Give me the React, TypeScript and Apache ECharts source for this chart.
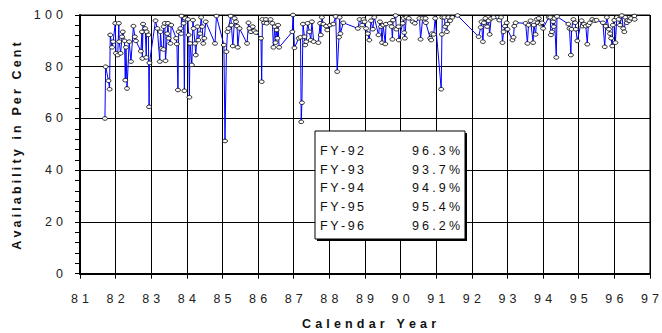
import React, { useEffect, useRef } from "react";
import * as echarts from "echarts";

// Calendar year (decimal) of each availability reading
const years: number[] = [
  81.70, 81.72, 81.80, 81.83, 81.85, 81.90, 81.93, 81.99, 82.01, 82.06,
  82.09, 82.10, 82.14, 82.18, 82.20, 82.25, 82.27, 82.29, 82.32, 82.38,
  82.43, 82.50, 82.54, 82.57, 82.71, 82.74, 82.75, 82.77, 82.83, 82.86,
  82.87, 82.92, 82.94, 82.95, 83.12, 83.17, 83.24, 83.26, 83.29, 83.34,
  83.35, 83.38, 83.40, 83.45, 83.47, 83.49, 83.54, 83.56, 83.70, 83.72,
  83.75, 83.77, 83.82, 83.84, 83.85, 83.91, 83.93, 83.95, 84.03, 84.05,
  84.07, 84.09, 84.14, 84.17, 84.19, 84.23, 84.25, 84.30, 84.32, 84.37,
  84.40, 84.43, 84.46, 84.49, 84.53, 84.79, 84.83, 85.04, 85.07, 85.11,
  85.14, 85.17, 85.23, 85.25, 85.29, 85.34, 85.38, 85.41, 85.43, 85.48,
  85.69, 85.73, 85.76, 85.80, 85.85, 85.89, 85.94, 86.08, 86.10, 86.12,
  86.17, 86.22, 86.24, 86.35, 86.40, 86.43, 86.47, 86.49, 86.52, 86.54,
  86.56, 86.59, 86.96, 86.98, 87.02, 87.14, 87.19, 87.21, 87.23, 87.26,
  87.30, 87.32, 87.35, 87.39, 87.44, 87.48, 87.51, 87.56, 87.69, 87.74,
  87.76, 87.79, 87.83, 87.91, 87.94, 88.02, 88.11, 88.18, 88.22, 88.27,
  88.29, 88.31, 88.39, 88.80, 88.85, 88.92, 88.96, 88.99, 89.03, 89.08,
  89.12, 89.17, 89.22, 89.26, 89.38, 89.42, 89.45, 89.48, 89.51, 89.57,
  89.59, 89.70, 89.75, 89.77, 89.79, 89.86, 89.88, 89.94, 89.95, 90.06,
  90.09, 90.10, 90.12, 90.16, 90.23, 90.34, 90.40, 90.53, 90.56, 90.62,
  90.70, 90.71, 90.83, 90.86, 90.88, 90.93, 90.97, 91.14, 91.16, 91.17,
  91.23, 91.25, 91.30, 91.31, 91.34, 91.39, 91.45, 91.60, 92.19, 92.25,
  92.27, 92.31, 92.34, 92.38, 92.43, 92.47, 92.50, 92.54, 92.61, 92.77,
  92.82, 92.86, 92.89, 92.93, 92.98, 93.00, 93.14, 93.17, 93.19, 93.23,
  93.51, 93.56, 93.59, 93.65, 93.72, 93.74, 93.79, 93.82, 93.85, 93.88,
  93.93, 93.97, 94.00, 94.16, 94.20, 94.22, 94.25, 94.28, 94.30, 94.32,
  94.37, 94.39, 94.71, 94.74, 94.78, 94.80, 94.85, 94.90, 94.92, 94.96,
  95.08, 95.11, 95.15, 95.20, 95.24, 95.27, 95.31, 95.38, 95.45, 95.50,
  95.68, 95.73, 95.76, 95.79, 95.85, 95.88, 95.91, 95.94, 95.96, 96.00,
  96.03, 96.07, 96.12, 96.16, 96.21, 96.25, 96.28, 96.31, 96.35, 96.37,
  96.42, 96.47, 96.56, 96.57,
];

// Availability in per cent
const availability: number[] = [
  60.0, 80.0, 74.6, 71.3, 92.3, 87.5, 89.7, 96.8, 85.2, 84.5,
  96.8, 89.7, 85.2, 91.6, 93.5, 90.0, 74.8, 87.5, 71.6, 89.7,
  82.0, 95.7, 91.6, 90.0, 86.0, 93.5, 83.2, 96.5, 94.8, 83.6,
  93.5, 92.3, 64.5, 81.5, 97.8, 94.8, 82.0, 93.5, 87.1, 86.7,
  95.5, 96.8, 82.3, 92.8, 96.8, 91.0, 89.0, 96.1, 91.0, 88.8,
  71.0, 93.5, 94.8, 92.8, 99.6, 96.8, 70.7, 98.7, 98.3, 92.3,
  68.2, 89.0, 80.7, 98.0, 94.8, 89.0, 84.5, 95.5, 90.3, 92.8,
  99.1, 95.5, 89.0, 91.0, 97.4, 89.0, 99.6, 88.4, 51.3, 85.8,
  93.5, 94.8, 99.6, 96.1, 88.0, 98.7, 97.4, 95.7, 87.5, 94.8,
  89.0, 97.0, 94.8, 93.5, 95.5, 93.9, 93.2, 91.0, 74.2, 98.3,
  97.0, 98.3, 96.8, 98.3, 96.8, 87.5, 95.5, 89.3, 94.2, 91.0,
  96.1, 87.5, 93.5, 100.0, 87.3, 91.0, 91.4, 58.7, 66.1, 96.5,
  91.6, 88.4, 89.7, 96.8, 93.5, 90.3, 97.4, 89.7, 89.3, 96.8,
  92.3, 99.1, 96.5, 95.7, 94.2, 96.1, 96.5, 99.4, 78.1, 91.4,
  99.1, 92.8, 97.0, 94.8, 98.3, 96.1, 98.3, 97.4, 94.8, 92.8,
  90.3, 97.8, 94.5, 99.1, 92.3, 97.4, 95.5, 89.3, 96.1, 88.8,
  96.5, 96.8, 95.5, 90.6, 98.0, 99.8, 94.5, 95.5, 90.3, 96.8,
  98.7, 93.2, 91.0, 99.1, 98.7, 97.4, 96.8, 98.7, 90.6, 98.7,
  98.7, 97.0, 91.0, 90.3, 92.8, 92.5, 98.7, 71.3, 92.5, 99.1,
  99.1, 95.5, 93.5, 96.5, 99.1, 97.8, 99.1, 99.8, 91.6, 95.2,
  97.4, 89.7, 97.0, 98.7, 95.5, 97.8, 92.5, 98.7, 99.1, 98.0,
  99.1, 89.3, 93.5, 95.7, 97.0, 94.5, 90.3, 91.4, 95.7, 97.0,
  96.8, 89.0, 96.1, 97.8, 89.3, 96.1, 92.5, 98.3, 97.0, 98.7,
  96.5, 97.0, 94.8, 99.1, 99.1, 92.3, 93.5, 97.4, 95.5, 98.7,
  83.6, 99.4, 96.5, 94.8, 84.5, 94.5, 98.3, 97.0, 94.5, 90.0,
  97.8, 95.7, 96.5, 95.7, 88.7, 96.1, 97.0, 98.3, 97.8, 98.0,
  97.0, 87.7, 95.7, 99.1, 94.5, 92.8, 91.0, 88.0, 96.1, 98.0,
  89.3, 99.1, 98.3, 96.1, 99.8, 94.8, 93.5, 99.1, 97.0, 98.0,
  97.8, 98.7, 99.6, 98.3,
];

const fiscalYears: string[] = ["FY-92", "FY-93", "FY-94", "FY-95", "FY-96"];
const fiscalAvail: string[] = ["96.3%", "93.7%", "94.9%", "95.4%", "96.2%"];

const xTitle = "Calendar Year";
const yTitle = "Availability in Per Cent";

const FONT = "'Liberation Sans', Arial, Helvetica, sans-serif";
const spaced = (s: string, ch: string) => s.split("").join(ch);

export default function App() {
  const ref = useRef<HTMLDivElement>(null);

  useEffect(() => {
    if (!ref.current) return;
    const chart = echarts.init(ref.current, undefined, { renderer: "svg" });

    const data = years.map((x, i) => [x, availability[i]]);

    const boxX = 315, boxY = 131, boxW = 150, boxH = 108;
    const rowY0 = 151, rowStep = 18.7;
    const legendEls: any[] = [
      { type: "rect", shape: { x: boxX + 2, y: boxY + 2, width: boxW, height: boxH }, style: { fill: "#000" }, z: 100 },
      { type: "rect", shape: { x: boxX, y: boxY, width: boxW, height: boxH }, style: { fill: "#fff", stroke: "#000", lineWidth: 1 }, z: 101 },
    ];
    fiscalYears.forEach((fy, i) => {
      legendEls.push({
        type: "text", z: 102, x: 320, y: rowY0 + i * rowStep,
        style: { text: spaced(fy, "\u2009"), font: `12.5px ${FONT}`, fill: "#111", align: "left", textAlign: "left", verticalAlign: "middle", textVerticalAlign: "middle" },
      });
      legendEls.push({
        type: "text", z: 102, x: 460, y: rowY0 + i * rowStep,
        style: { text: spaced(fiscalAvail[i], "\u2005"), font: `12.5px ${FONT}`, fill: "#111", align: "right", textAlign: "right", verticalAlign: "middle", textVerticalAlign: "middle" },
      });
    });

    chart.setOption({
      animation: false,
      grid: { left: 80, right: 4, top: 15, bottom: 59.3, show: true, borderColor: "#000", borderWidth: 1, backgroundColor: "transparent" },
      xAxis: {
        type: "value", min: 81, max: 97, interval: 1,
        axisLine: { show: true, onZero: false, lineStyle: { color: "#000", width: 2 } },
        axisTick: { show: true, length: 5, lineStyle: { color: "#000", width: 1 } },
        axisLabel: { margin: 19, color: "#222", fontFamily: FONT, fontSize: 12.5, formatter: (v: number) => spaced(String(v), "\u2004") },
        splitLine: { show: true, lineStyle: { color: "#000", width: 1 } },
      },
      yAxis: {
        type: "value", min: 0, max: 100, interval: 20,
        axisLine: { show: true, lineStyle: { color: "#000", width: 2 } },
        axisTick: { show: true, length: 5, lineStyle: { color: "#000", width: 1 } },
        minorTick: { show: true, splitNumber: 5, length: 5, lineStyle: { color: "#000", width: 1 } },
        axisLabel: { margin: 17, color: "#222", fontFamily: FONT, fontSize: 12.5, formatter: (v: number) => spaced(String(v), "\u2004") },
        splitLine: { show: true, lineStyle: { color: "#000", width: 1 } },
      },
      series: [
        {
          type: "line", data, clip: false,
          symbol: "circle", symbolSize: [5, 3.6], showSymbol: true,
          lineStyle: { color: "#0000ff", width: 1 },
          itemStyle: { color: "#fff", borderColor: "#000", borderWidth: 0.8 },
          z: 5,
        },
      ],
      graphic: [
        {
          type: "text", x: 369, y: 324,
          style: { text: spaced(xTitle, "\u2004"), font: `bold 12.5px ${FONT}`, fill: "#111", align: "center", textAlign: "center", verticalAlign: "middle", textVerticalAlign: "middle" },
        },
        {
          type: "text", x: 16.5, y: 146, rotation: Math.PI / 2,
          style: { text: spaced(yTitle, "\u2005"), font: `bold 12.5px ${FONT}`, fill: "#111", align: "center", textAlign: "center", verticalAlign: "middle", textVerticalAlign: "middle" },
        },
        ...legendEls,
      ],
    });

    return () => chart.dispose();
  }, []);

  return (
    <div
      ref={ref}
      style={{ position: "fixed", left: 0, top: 0, width: 662, height: 333, background: "#fff" }}
    />
  );
}
